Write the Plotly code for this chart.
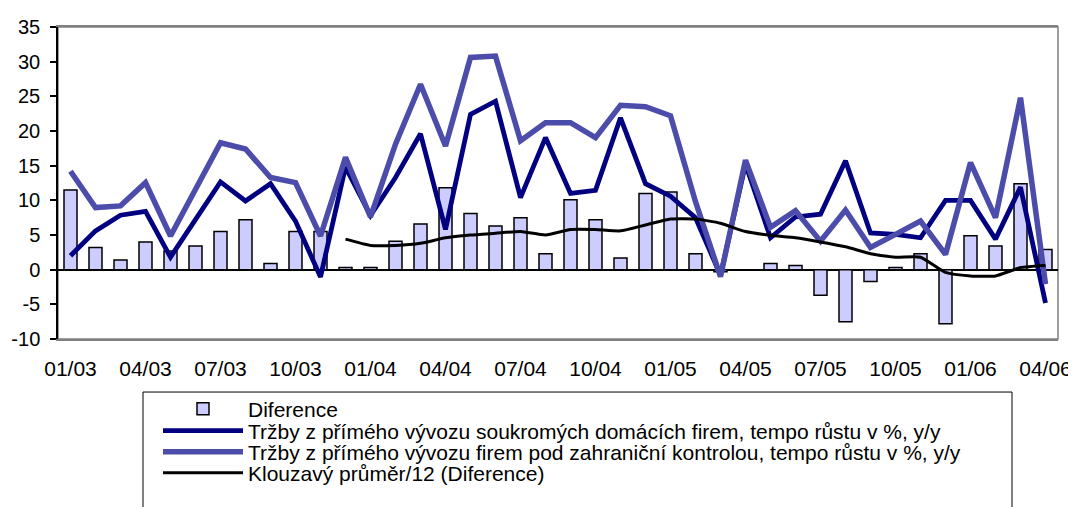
import plotly.graph_objects as go

months = ["01/03", "02/03", "03/03", "04/03", "05/03", "06/03", "07/03", "08/03", "09/03", "10/03", "11/03", "12/03",
          "01/04", "02/04", "03/04", "04/04", "05/04", "06/04", "07/04", "08/04", "09/04", "10/04", "11/04", "12/04",
          "01/05", "02/05", "03/05", "04/05", "05/05", "06/05", "07/05", "08/05", "09/05", "10/05", "11/05", "12/05",
          "01/06", "02/06", "03/06", "04/06"]
tick_labels = months[::3]
y_ticks = [-10, -5, 0, 5, 10, 15, 20, 25, 30, 35]
y_tick_labels = ["-10", "-5", "0", "5", "10", "15", "20", "25", "30", "35"]

diference = [11.5, 3.2, 1.4, 4.0, 2.7, 3.4, 5.5, 7.2, 0.9, 5.5, 5.5, 0.3,
             0.3, 4.1, 6.6, 11.8, 8.1, 6.3, 7.5, 2.3, 10.1, 7.2, 1.7, 11.0,
             11.2, 2.3, -0.3, 0.0, 0.9, 0.6, -3.7, -7.5, -1.7, 0.3, 2.3, -7.8,
             4.9, 3.4, 12.4, 2.9]

domestic = [2.0, 5.6, 7.85, 8.4, 1.8, 7.3, 12.65, 9.9, 12.4, 7.0, -1.05, 14.8,
            7.8, 13.3, 19.6, 5.8, 22.4, 24.3, 10.4, 19.05, 11.0, 11.45, 21.9, 12.4,
            10.6, 7.5, -0.8, 15.2, 4.6, 7.6, 8.0, 15.7, 5.3, 5.1, 4.6, 10.0,
            10.0, 4.4, 11.9, -4.8]

foreign = [14.2, 8.95, 9.2, 12.55, 4.85, 11.6, 18.3, 17.4, 13.3, 12.55, 4.85, 16.2,
           7.6, 18.1, 26.75, 17.85, 30.6, 30.8, 18.6, 21.2, 21.2, 19.05, 23.7, 23.5,
           22.2, 9.8, -1.0, 15.8, 6.1, 8.5, 4.1, 8.6, 3.2, 5.1, 7.0, 2.2,
           15.45, 7.5, 24.8, -2.1]

moving_avg = [None] * 11 + [4.4, 3.5, 3.5, 3.8, 4.6, 5.0, 5.25, 5.5, 5.0, 5.8,
                            5.8, 5.6, 6.45, 7.3, 7.3, 6.7, 5.5, 4.95, 4.6, 4.0,
                            3.3, 2.3, 1.8, 1.8, -0.4, -0.9, -0.9, 0.3, 0.6]

names = ["Diference",
         "Tržby z přímého vývozu soukromých domácích firem, tempo růstu v %, y/y",
         "Tržby z přímého vývozu firem pod zahraniční kontrolou, tempo růstu v %, y/y",
         "Klouzavý průměr/12 (Diference)"]

FONT = "Arial, Liberation Sans, sans-serif"

fig = go.Figure()
fig.add_trace(go.Bar(x=months, y=diference, name=names[0], legend="legend",
                     marker=dict(color="#CCCCFF", line=dict(color="black", width=1.5))))
fig.add_trace(go.Scatter(x=months, y=domestic, name=names[1], mode="lines", legend="legend2",
                         line=dict(color="#000080", width=4.8)))
fig.add_trace(go.Scatter(x=months, y=foreign, name=names[2], mode="lines", legend="legend3",
                         line=dict(color="#4C4CAA", width=5.5)))
fig.add_trace(go.Scatter(x=months, y=moving_avg, name=names[3], mode="lines", legend="legend4",
                         line=dict(color="black", width=3, shape="spline", smoothing=0.5),
                         connectgaps=False))

n = len(months)
boundaries = [i - 0.5 for i in range(1, n)]

# legend rows (one legend per row so the row pitch matches the reference)
row_y = [-0.2244, -0.2949, -0.3622, -0.4295]


def row_legend(y):
    return dict(x=0.10, y=y, xanchor="left", yanchor="middle",
                bgcolor="rgba(0,0,0,0)", borderwidth=0,
                font=dict(size=21, family=FONT, color="black"), itemwidth=80)


fig.update_layout(
    width=1068, height=499,
    margin=dict(l=50, r=18, t=19, b=168, autoexpand=False),
    paper_bgcolor="white", plot_bgcolor="white",
    font=dict(family=FONT, color="black", size=20),
    bargap=0.48,
    showlegend=True,
    legend=row_legend(row_y[0]),
    legend2=row_legend(row_y[1]),
    legend3=row_legend(row_y[2]),
    legend4=row_legend(row_y[3]),
    xaxis=dict(type="category", categoryorder="array", categoryarray=months,
               range=[-0.5, n - 0.5], tickmode="array", tickvals=tick_labels, ticktext=tick_labels,
               ticks="", ticklabelstandoff=10, tickfont=dict(size=21, family=FONT),
               showline=True, linecolor="#808080", linewidth=1.5, mirror=True,
               showgrid=False, zeroline=False, automargin=False),
    xaxis2=dict(overlaying="x", type="linear", range=[-0.5, n - 0.5], anchor="free",
                position=10 / 45, tickmode="array", tickvals=boundaries,
                ticks="outside", ticklen=5, tickcolor="black", tickwidth=1,
                showticklabels=False, showline=False, showgrid=False, zeroline=False,
                automargin=False),
    yaxis=dict(range=[-10, 35], tickmode="array", tickvals=y_ticks, ticktext=y_tick_labels,
               ticks="outside", ticklen=6,
               tickcolor="black", tickwidth=1.5, ticklabelstandoff=6,
               tickfont=dict(size=20, family=FONT),
               showline=True, linecolor="black", linewidth=1.5,
               zeroline=True, zerolinecolor="black", zerolinewidth=1.5, showgrid=False,
               automargin=False),
    shapes=[dict(type="rect", xref="paper", yref="paper", x0=0, x1=1, y0=0, y1=1,
                 line=dict(color="#808080", width=1.5), layer="below"),
            dict(type="rect", xref="paper", yref="paper", x0=0.085, x1=0.954, y0=-0.17, y1=-0.60,
                 line=dict(color="black", width=1), fillcolor="rgba(0,0,0,0)", layer="above")],
)

fig.write_html("out.html")
